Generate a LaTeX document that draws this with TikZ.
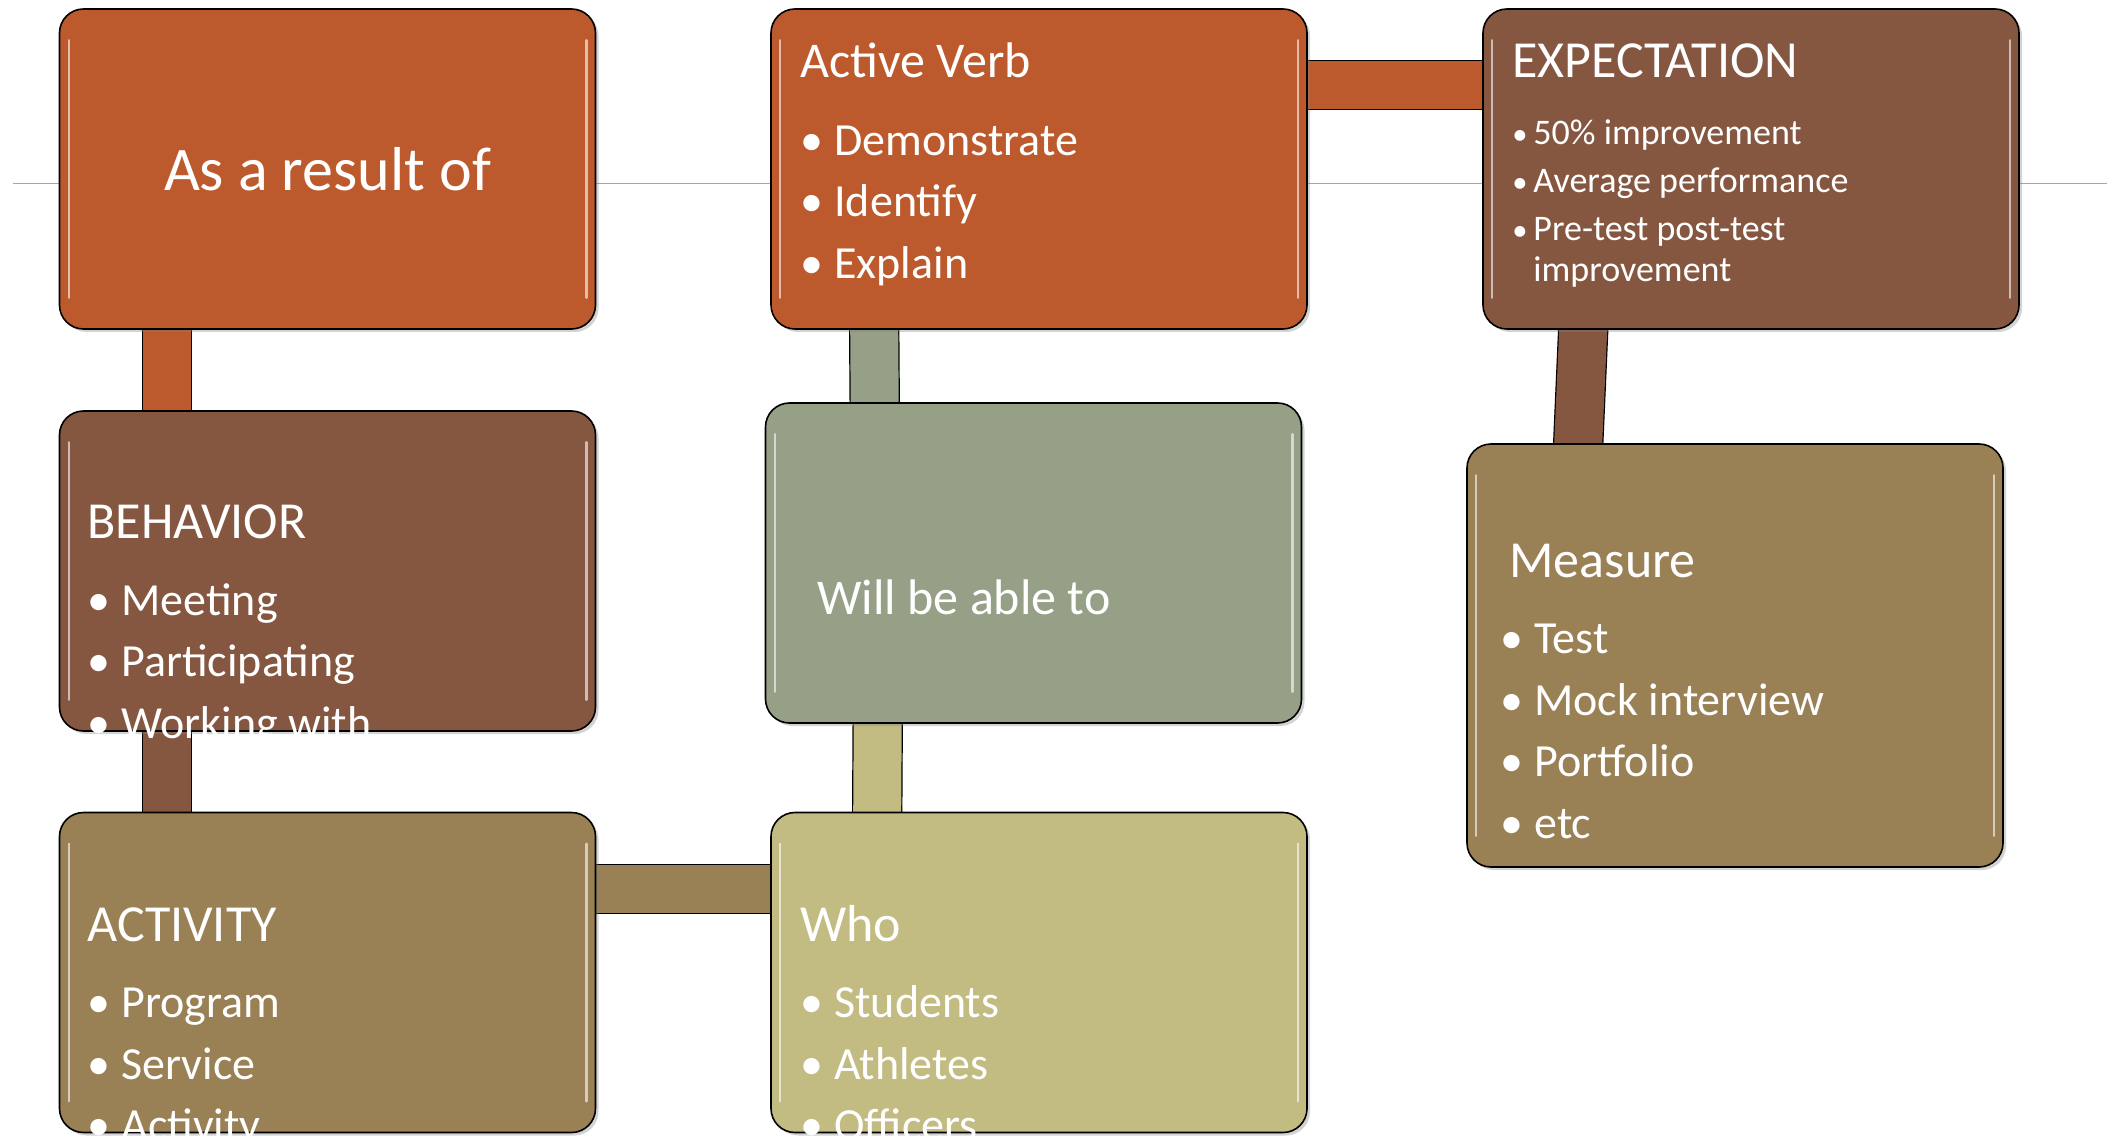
\documentclass[tikz,border=0pt]{standalone}
\usepackage{fontspec}
\setmainfont{Carlito}
\usepackage{xcolor}
\definecolor{rustorange}{RGB}{188,90,45}
\definecolor{barkbrown}{RGB}{133,87,65}
\definecolor{sandkhaki}{RGB}{154,129,85}
\definecolor{sagegreen}{RGB}{149,160,135}
\definecolor{strawlight}{RGB}{195,188,130}
\usepackage{tikz}
\usetikzlibrary{shadows,backgrounds}

\newcommand{\bul}{\makebox[17pt][l]{\textbullet}}
\newcommand{\smallbul}{\makebox[10.5pt][l]{\scalebox{0.85}{\textbullet}}}

\begin{document}
\begin{tikzpicture}[x=0.5pt,y=-0.5pt,
    card/.style={draw=black,line width=0.8pt,rounded corners=12pt,fill=#1,
      minimum width=268pt,minimum height=160pt,inner sep=0pt,
      drop shadow={opacity=0.35,shadow xshift=1.5pt,shadow yshift=-1.5pt}},
    gloss/.style={draw=white,line width=1.2pt,opacity=0.6,line cap=round},
    bar/.style={draw=black,line width=0.6pt,double=#1,double distance=24pt,
      shorten <=-4pt,shorten >=-4pt},
    cardtext/.style={text=white,anchor=base west,inner sep=0pt,
      font=\fontsize{23}{30.75}\selectfont}]
  \useasboundingbox (0,0) rectangle (2107,1138);

  \node[card=rustorange] (result) at (327.5,169) {};
  \node[card=rustorange] (verb) at (1039,169) {};
  \node[card=barkbrown] (expect) at (1751,169) {};
  \node[card=barkbrown] (behavior) at (327.5,571) {};
  \node[card=sagegreen] (will) at (1033.5,563) {};
  \node[card=sandkhaki,minimum height=211.5pt] (measure) at (1735,655.5) {};
  \node[card=sandkhaki] (activity) at (327.5,972.5) {};
  \node[card=strawlight] (who) at (1039,972.5) {};

  \foreach \n in {result,verb,expect,behavior,will,measure,activity,who} {
    \draw[gloss] ([xshift=5pt,yshift=-16pt]\n.north west) -- ([xshift=5pt,yshift=16pt]\n.south west);
    \draw[gloss] ([xshift=-5pt,yshift=-16pt]\n.north east) -- ([xshift=-5pt,yshift=16pt]\n.south east);
  }

  \begin{scope}[on background layer]
    \draw[black!35,line width=0.5pt] (13,184) -- (2107,184);
    \draw[bar=rustorange] ([xshift=54pt]result.south west) -- ([xshift=54pt]behavior.north west);
    \draw[bar=barkbrown] ([xshift=54pt]behavior.south west) -- ([xshift=54pt]activity.north west);
    \draw[bar=sandkhaki] ([yshift=-38.5pt]activity.north east) -- ([yshift=-38.5pt]who.north west);
    \draw[bar=rustorange] ([yshift=-38.5pt]verb.north east) -- ([yshift=-38.5pt]expect.north west);
    \draw[bar=sagegreen] ([xshift=52pt]verb.south west) -- ([xshift=55pt]will.north west);
    \draw[bar=strawlight] ([xshift=56.5pt]will.south west) -- ([xshift=53.5pt]who.north west);
    \draw[bar=barkbrown] ([xshift=50.5pt]expect.south west) -- ([xshift=56pt]measure.north west);
  \end{scope}

  \node[cardtext,anchor=center,font=\fontsize{31}{37}\selectfont] (resulttx) at (result.center) {As a result of};

  \node[cardtext] (verbtx) at (800,78) {
    \begin{tabular}[t]{@{}l@{}}
      {\fontsize{25}{30}\selectfont Active Verb}\\[8pt]
      \bul Demonstrate\\
      \bul Identify\\
      \bul Explain
    \end{tabular}
  };

  \node[cardtext,font=\fontsize{18}{24}\selectfont] (expecttx) at (1512,78) {
    \begin{tabular}[t]{@{}l@{}}
      {\fontsize{26}{30}\selectfont EXPECTATION}\\[9.5pt]
      \smallbul 50\% improvement\\
      \smallbul Average performance\\
      \smallbul Pre-test post-test\\[-3.5pt]
      \hspace*{10.5pt}improvement
    \end{tabular}
  };

  \node[cardtext] (behaviortx) at (87,538) {
    \begin{tabular}[t]{@{}l@{}}
      {\fontsize{26}{30}\selectfont BEHAVIOR}\\[8pt]
      \bul Meeting\\
      \bul Participating\\
      \bul Working with
    \end{tabular}
  };

  \node[cardtext,font=\fontsize{25}{30}\selectfont] (willtx) at (817,614) {Will be able to};

  \node[cardtext] (measuretx) at (1500,577) {
    \begin{tabular}[t]{@{}l@{}}
      \hspace*{4.5pt}{\fontsize{26}{30}\selectfont Measure}\\[7.5pt]
      \bul Test\\
      \bul Mock interview\\
      \bul Portfolio\\
      \bul etc
    \end{tabular}
  };

  \node[cardtext] (activitytx) at (87,941) {
    \begin{tabular}[t]{@{}l@{}}
      {\fontsize{26}{30}\selectfont ACTIVITY}\\[7.5pt]
      \bul Program\\
      \bul Service\\
      \bul Activity
    \end{tabular}
  };

  \node[cardtext] (whotx) at (800,941) {
    \begin{tabular}[t]{@{}l@{}}
      {\fontsize{26}{30}\selectfont Who}\\[7.5pt]
      \bul Students\\
      \bul Athletes\\
      \bul Officers
    \end{tabular}
  };
\end{tikzpicture}
\end{document}
